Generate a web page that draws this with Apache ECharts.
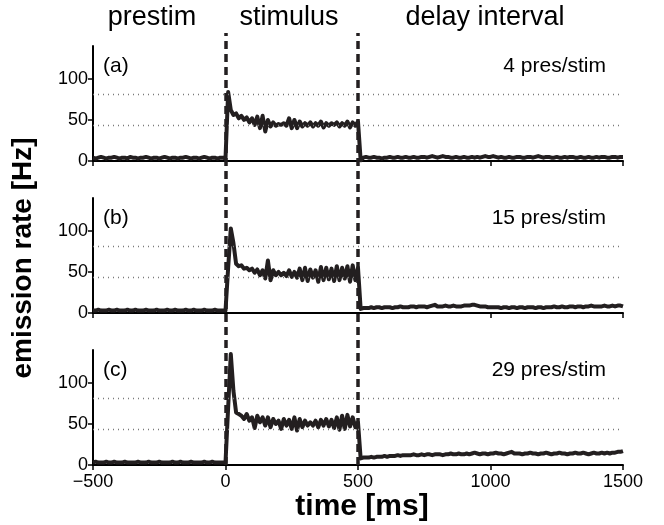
<!DOCTYPE html>
<html>
<head>
<meta charset="utf-8">
<script src="https://cdn.jsdelivr.net/npm/echarts@6/dist/echarts.min.js"></script>
<style>
  html, body { margin: 0; padding: 0; background: #fff; }
  #chart { width: 664px; height: 525px; }
</style>
</head>
<body>
<div id="chart"></div>
<script>
// time grid: -500 .. 1500 ms, 10 ms bins
const timeStart = -500;
const timeEnd = 1500;
const timeStep = 10;

// panel (a) rates [Hz]
const prestimA = [4,3,4,5,4,3,4,4,5,4, 3,4,4,3,5,4,4,3,4,4, 5,4,3,4,4,3,4,5,4,3, 4,4,3,4,4,5,4,3,4,4, 3,4,5,4,3,4,4,3,4,4];
const stimA = [3,84,62,56,58,52,55,50,53,47, 52,44,54,40,55,36,50,42,47,43, 45,44,46,43,52,40,50,40,48,42,
  46,43,47,42,46,43,48,41,46,43, 46,44,47,42,46,43,48,41,47,43, 48];
const delayA = [1,4,5,4,4,5,4,4,3,4, 4,5,4,4,5,4,4,5,4,4, 5,4,4,5,5,4,5,6,5,4, 5,6,5,5,4,4,5,4,4,5,
  4,4,5,4,5,4,5,6,5,5, 6,5,4,5,4,4,5,4,4,5, 5,4,4,5,5,4,5,6,5,4, 5,5,4,4,5,4,4,5,4,5,
  5,4,4,5,4,4,5,4,4,5, 4,5,5,4,4,5,5,4,5,5];

// panel (b)
const prestimB = [3,3,4,3,3,3,4,3,3,4, 3,3,3,4,3,3,4,3,3,3, 4,3,3,3,4,3,3,3,4,3, 3,4,3,3,3,4,3,3,4,3, 3,3,4,3,3,3,4,3,3,3];
const stimB = [3,55,103,85,60,57,58,54,55,52, 54,49,53,46,52,42,64,40,52,46, 50,46,49,45,52,44,50,43,54,40,
  55,39,53,43,52,38,56,40,55,41, 54,39,57,40,55,42,57,38,58,40, 55];
const delayB = [5,6,6,6,7,6,7,7,6,7, 7,7,6,7,7,8,7,7,7,8, 8,7,8,8,8,7,8,9,10,8, 8,8,9,8,8,9,8,8,8,9,
  9,9,10,10,9,8,8,8,7,7, 7,7,7,6,7,7,6,7,7,6, 7,7,6,7,7,7,6,7,7,6, 7,7,7,8,7,7,8,7,7,8,
  8,7,8,8,7,8,8,9,8,8, 8,8,9,8,8,9,8,9,9,8];

// panel (c)
const prestimC = [3,4,3,3,3,4,3,3,4,3, 3,3,4,3,3,3,3,4,3,3, 3,4,3,3,3,4,3,3,3,3, 4,3,3,4,3,3,3,4,3,3, 3,3,4,3,3,4,3,3,3,3];
const stimC = [3,70,135,90,64,62,60,56,62,54, 58,45,60,52,58,48,58,46,56,50, 54,44,56,48,55,44,58,42,56,46,
  54,48,52,48,54,46,55,48,56,47, 55,45,58,43,60,44,61,47,58,46, 52];
const delayC = [8,9,9,9,10,9,10,10,10,11, 10,11,11,11,12,11,12,12,12,12, 13,12,12,13,12,13,13,12,13,13,
  13,12,13,13,14,13,13,14,13,13, 14,13,14,15,14,13,14,14,13,14, 14,15,14,14,13,14,15,16,14,14,
  14,13,14,14,15,14,14,13,14,14, 15,14,13,14,14,15,14,14,13,14, 14,15,14,14,15,14,13,14,15,14,
  14,15,14,15,14,15,15,16,16,17];

const panelLabels = ["(a)", "(b)", "(c)"];
const presLabels = ["4 pres/stim", "15 pres/stim", "29 pres/stim"];
const refLevels = [81, 43];
const epochBounds = [0, 500];
const yTicks = [0, 50, 100];
const epochNames = ["prestim", "stimulus", "delay interval"];

const timeMs = [];
for (let t = timeStart; t <= timeEnd; t += timeStep) timeMs.push(t);

const panels = [
  prestimA.concat(stimA, delayA),
  prestimB.concat(stimB, delayB),
  prestimC.concat(stimC, delayC),
];

const FONT = "'Liberation Sans', Arial, Helvetica, sans-serif";
const INK = "#231f20";
const left = 93, right = 41, panelH = 115;
const panelTops = [46, 198, 350];

const chart = echarts.init(document.getElementById("chart"), null, { renderer: "canvas" });

const grid = panelTops.map((top) => ({ left, right, top, height: panelH }));
// overlay grid for the epoch boundaries, runs across all panels
grid.push({ left, right, top: 33, height: 465 - 33 });

const xAxis = panelTops.map((_, i) => ({
  type: "value",
  gridIndex: i,
  min: timeStart,
  max: timeEnd,
  interval: 500,
  axisLine: { onZero: false, lineStyle: { color: "#000", width: 2 } },
  axisTick: { length: 5, lineStyle: { color: "#000", width: 1.5 } },
  axisLabel: {
    show: i === 2,
    color: "#000",
    fontSize: 18,
    fontFamily: FONT,
    margin: 8,
    formatter: (v) => String(v).replace("-", "\u2212"),
  },
  splitLine: { show: false },
}));
xAxis.push({ type: "value", gridIndex: 3, min: timeStart, max: timeEnd, show: false });

const yAxis = panelTops.map((_, i) => ({
  type: "value",
  gridIndex: i,
  min: 0,
  max: 140,
  axisLine: { show: true, onZero: false, lineStyle: { color: "#000", width: 2 } },
  axisTick: { show: true, length: 5, customValues: yTicks, lineStyle: { color: "#000", width: 1.5 } },
  axisLabel: { customValues: yTicks, color: "#000", fontSize: 18, fontFamily: FONT, margin: 5 },
  splitLine: { show: false },
}));
yAxis.push({ type: "value", gridIndex: 3, min: 0, max: 1, show: false });

const series = [];
panels.forEach((rates, i) => {
  series.push({
    type: "line",
    xAxisIndex: i,
    yAxisIndex: i,
    data: [],
    silent: true,
    z: 1,
    markLine: {
      symbol: "none",
      silent: true,
      label: { show: false },
      lineStyle: { color: "#7a7a7a", type: [1, 4], width: 1.3 },
      data: refLevels.map((v) => ({ yAxis: v })),
    },
  });
  series.push({
    type: "line",
    xAxisIndex: i,
    yAxisIndex: i,
    data: timeMs.map((t, k) => [t, rates[k]]),
    showSymbol: false,
    silent: true,
    z: 3,
    lineStyle: { color: INK, width: 4, join: "round" },
  });
});
series.push({
  type: "line",
  xAxisIndex: 3,
  yAxisIndex: 3,
  data: [],
  silent: true,
  z: 4,
  markLine: {
    symbol: "none",
    silent: true,
    label: { show: false },
    lineStyle: { color: INK, type: [8, 5], width: 3.5 },
    data: epochBounds.map((v) => ({ xAxis: v })),
  },
});

const epochX = [152, 289, 485];
const graphic = [];
epochNames.forEach((name, i) => {
  graphic.push({
    type: "text", x: epochX[i], y: 18,
    style: { text: name, font: `27px ${FONT}`, fill: "#000", textAlign: "center", textVerticalAlign: "middle" },
  });
});
panelTops.forEach((top, i) => {
  graphic.push({
    type: "text", x: 103, y: top + 20,
    style: { text: panelLabels[i], font: `21px ${FONT}`, fill: "#000", textAlign: "left", textVerticalAlign: "middle" },
  });
  graphic.push({
    type: "text", x: 606, y: top + 20,
    style: { text: presLabels[i], font: `21px ${FONT}`, fill: "#000", textAlign: "right", textVerticalAlign: "middle" },
  });
});
graphic.push({
  type: "text", x: 23, y: 258, rotation: Math.PI / 2,
  style: { text: "emission rate [Hz]", font: `bold 28px ${FONT}`, fill: "#000", textAlign: "center", textVerticalAlign: "middle" },
});
graphic.push({
  type: "text", x: 362, y: 507,
  style: { text: "time [ms]", font: `bold 30px ${FONT}`, fill: "#000", textAlign: "center", textVerticalAlign: "middle" },
});

chart.setOption({
  animation: false,
  backgroundColor: "#fff",
  grid,
  xAxis,
  yAxis,
  series,
  graphic,
});
</script>
</body>
</html>
